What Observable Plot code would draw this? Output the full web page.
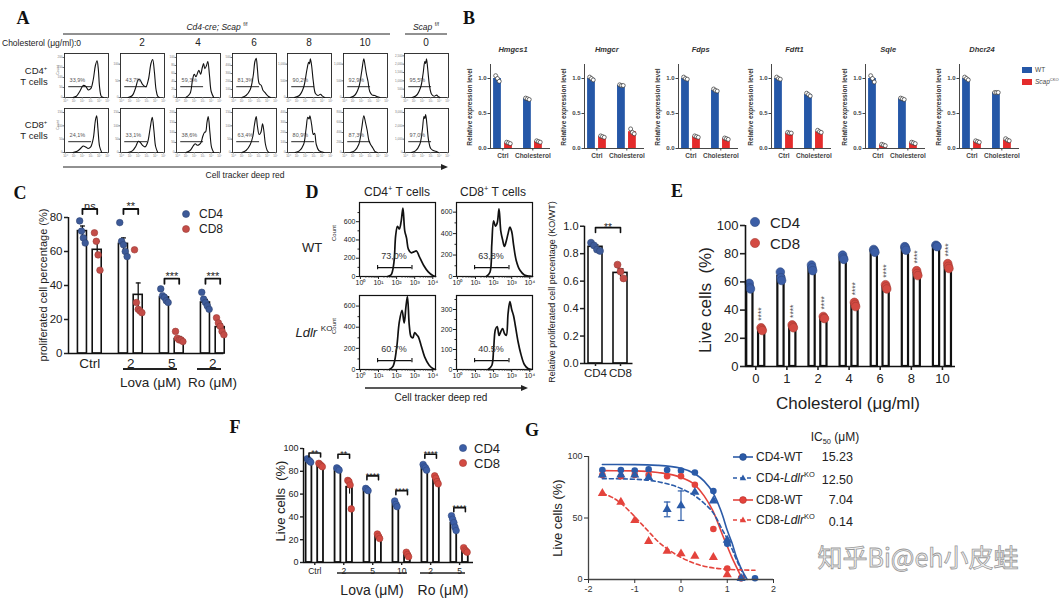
<!DOCTYPE html>
<html>
<head>
<meta charset="utf-8">
<script src="https://cdn.jsdelivr.net/npm/d3@7"></script>
<script src="https://cdn.jsdelivr.net/npm/@observablehq/plot@0.6"></script>
<style>
html,body{margin:0;padding:0;background:#fff;}
#fig{position:relative;width:1060px;height:601px;overflow:hidden;background:#fff;font-family:"Liberation Sans",Arial,sans-serif;}
#fig svg{overflow:visible;}
#fig sup{font-size:62%;vertical-align:super;line-height:0;}
#fig sub{font-size:62%;vertical-align:sub;line-height:0;}
</style>
</head>
<body>
<div id="fig"></div>
<script>
// ================= DATA =================
// Panel A: flow histograms (x = log10 decade, y = % of peak)
const aDoseLabels = ["0","2","4","6","8","10","0"];
const aCD4Pct = ["33,9%","43,7%","59,3%","81,3%","90,2%","92,9%","95,5%"];
const aCD8Pct = ["24,1%","33,1%","38,6%","63,4%","80,9%","87,3%","97,0%"];
const aCD4Max = [200,120,100,500,1200,1200,2400];
const aCD8Max = [150,150,200,150,400,800,3000];
const aGate = [0.4, 3.1];
const aCD4Curves = [
  [[0.9,0],[1.3,3],[1.7,15],[2.1,30],[2.4,28],[2.7,19],[3.0,22],[3.3,45],[3.55,80],[3.75,92],[3.9,70],[4.05,25],[4.25,3],[4.5,0]],
  [[0.8,0],[1.3,5],[1.7,25],[2.0,45],[2.2,44],[2.5,33],[2.9,27],[3.2,45],[3.5,85],[3.7,95],[3.9,65],[4.1,20],[4.3,3],[4.5,0]],
  [[1.0,0],[1.5,10],[1.8,45],[2.0,58],[2.2,52],[2.4,62],[2.55,68],[2.75,58],[2.95,75],[3.1,85],[3.25,72],[3.45,80],[3.6,90],[3.8,55],[4.0,15],[4.3,0]],
  [[1.0,0],[1.5,5],[2.0,20],[2.35,55],[2.55,90],[2.7,98],[2.85,70],[3.05,35],[3.3,30],[3.5,18],[3.75,12],[3.9,8],[4.2,2],[4.4,0]],
  [[0.7,0],[1.3,5],[1.8,25],[2.2,70],[2.4,88],[2.5,84],[2.6,97],[2.75,80],[2.95,40],[3.2,10],[3.5,5],[3.8,8],[4.0,4],[4.3,0]],
  [[0.7,0],[1.2,5],[1.7,25],[2.05,65],[2.3,97],[2.45,80],[2.6,60],[2.8,40],[3.0,15],[3.3,6],[3.6,5],[3.9,2],[4.2,0]],
  [[0.8,0],[1.3,5],[1.8,25],[2.1,60],[2.3,90],[2.4,85],[2.5,97],[2.65,70],[2.85,30],[3.1,8],[3.4,3],[3.7,6],[3.9,2],[4.1,0]]
];
const aCD8Curves = [
  [[0.9,0],[1.4,3],[1.8,10],[2.1,16],[2.4,14],[2.7,10],[3.0,14],[3.3,35],[3.55,80],[3.7,92],[3.85,60],[4.05,15],[4.3,0]],
  [[0.8,0],[1.3,4],[1.7,15],[2.0,28],[2.2,26],[2.5,18],[2.8,14],[3.1,25],[3.4,60],[3.65,88],[3.85,55],[4.05,15],[4.3,0]],
  [[1.0,0],[1.5,5],[1.9,17],[2.1,22],[2.35,18],[2.6,20],[2.8,25],[3.0,40],[3.2,50],[3.35,52],[3.5,75],[3.65,90],[3.85,50],[4.05,12],[4.3,0]],
  [[1.0,0],[1.5,5],[2.0,20],[2.3,40],[2.5,70],[2.7,90],[2.85,65],[3.05,45],[3.25,50],[3.45,72],[3.6,55],[3.8,20],[4.0,5],[4.2,0]],
  [[0.8,0],[1.3,4],[1.8,20],[2.1,60],[2.3,88],[2.45,84],[2.55,92],[2.75,70],[2.95,45],[3.1,48],[3.3,20],[3.6,5],[3.9,2],[4.2,0]],
  [[0.7,0],[1.2,4],[1.7,20],[2.05,60],[2.3,92],[2.5,75],[2.7,55],[2.9,30],[3.1,20],[3.35,12],[3.6,3],[3.9,0]],
  [[0.7,0],[1.2,4],[1.7,20],[2.0,55],[2.2,90],[2.3,85],[2.4,95],[2.55,70],[2.75,30],[3.0,10],[3.3,5],[3.6,3],[3.9,0]]
];

// Panel B: relative expression
const bGenes = ["Hmgcs1","Hmgcr","Fdps","Fdft1","Sqle","Dhcr24"];
const bConds = ["Ctrl","Cholesterol"];
const bWT = [[1.0,0.71],[1.0,0.90],[1.0,0.83],[1.0,0.77],[1.0,0.71],[1.0,0.80]];
const bKO = [[0.08,0.10],[0.17,0.24],[0.17,0.14],[0.22,0.24],[0.05,0.08],[0.10,0.12]];
const bWTPts = [
  [[1.04,1.00,0.96],[0.72,0.71,0.70]],
  [[1.02,1.00,0.98],[0.91,0.90,0.90]],
  [[1.02,1.00,0.99],[0.85,0.83,0.82]],
  [[1.02,1.00,0.99],[0.79,0.77,0.75]],
  [[1.04,1.00,0.95],[0.72,0.71,0.70]],
  [[1.02,1.00,0.98],[0.80,0.80,0.80]]
];
const bKOPts = [
  [[0.09,0.08,0.07],[0.11,0.10,0.09]],
  [[0.18,0.17,0.16],[0.28,0.23,0.21]],
  [[0.18,0.17,0.16],[0.15,0.14,0.13]],
  [[0.23,0.22,0.22],[0.26,0.24,0.23]],
  [[0.06,0.05,0.04],[0.09,0.08,0.07]],
  [[0.11,0.10,0.09],[0.14,0.12,0.11]]
];

// Panel C
const cGroupLabels = ["Ctrl","2","5","2"];
const cCD4Mean = [72, 64.5, 33, 30];
const cCD8Mean = [61, 34.5, 8.5, 15.5];
const cCD4Sem = [3, 3.5, 1.3, 1.8];
const cCD8Sem = [5, 7, 1.5, 2];
const cCD4Pts = [[78,72,68,65],[77,66,64,60,57],[38,34,33,31,30],[36,32,30,28,26]];
const cCD8Pts = [[71,66,58,49],[61,30,26,25,24],[13,9,8,8,7],[21,18,16,13,11]];
const cSig = ["ns","**","***","***"];
const cSigY = [85, 85, 44, 44];

// Panel D
const dPct = [["73,0%","63,8%"],["60.7%","40.5%"]];
const dYMax = [[810,690],[700,370]];
const dYTicks = [[[0,200,400,600],[0,200,400,600]],[[0,200,400,600],[0,100,200,300]]];
const dGate = [0.95, 2.85];
const dCurves = [
  [
    [[1.5,0],[1.7,20],[1.85,150],[1.95,450],[2.05,550],[2.15,520],[2.25,600],[2.35,750],[2.45,500],[2.55,420],[2.65,300],[2.8,260],[2.95,270],[3.1,280],[3.25,220],[3.5,120],[3.75,50],[4.0,10],[4.15,0]],
    [[1.6,0],[1.8,40],[1.9,300],[2.0,520],[2.1,470],[2.2,500],[2.3,630],[2.4,420],[2.5,340],[2.6,280],[2.7,330],[2.8,400],[2.9,460],[3.0,420],[3.1,300],[3.25,150],[3.45,60],[3.7,15],[4.0,3],[4.15,0]]
  ],
  [
    [[1.6,0],[1.8,30],[2.0,200],[2.15,450],[2.3,560],[2.42,440],[2.52,600],[2.6,690],[2.7,420],[2.8,310],[2.9,300],[3.0,350],[3.1,330],[3.2,310],[3.35,230],[3.55,120],[3.8,40],[4.0,10],[4.15,0]],
    [[1.7,0],[1.9,20],[2.0,100],[2.1,200],[2.2,215],[2.3,170],[2.4,190],[2.5,205],[2.6,180],[2.7,170],[2.8,280],[2.9,340],[3.0,300],[3.1,270],[3.2,220],[3.35,140],[3.5,80],[3.7,25],[3.9,5],[4.1,0]]
  ]
];
const dBarLabels = ["CD4","CD8"];
const dBarMean = [0.85, 0.66];
const dBarSem = [0.015, 0.03];
const dBarPts = [[0.88,0.86,0.83,0.82],[0.72,0.67,0.62]];

// Panel E
const eDoses = ["0","1","2","4","6","8","10"];
const eCD4Mean = [57, 64, 70, 77, 82, 84, 85.5];
const eCD8Mean = [26.5, 28.5, 34.5, 44, 56.5, 66, 71];
const eCD4Pts = [[59,56,55],[67,63,61],[72,70,68],[79,77,76],[83,82,81],[85,84,82.5],[86,85.5,85]];
const eCD8Pts = [[27.5,26.5,25.5],[29.5,28.5,27.5],[35.5,34.5,34],[45.5,44,42.5],[58,56.5,55],[68,66,64.5],[73,71,69.5]];

// Panel F
const fGroups = ["Ctrl","2","5","10","2","5"];
const fCD4Mean = [90, 82, 64, 51.5, 83.5, 34.5];
const fCD8Mean = [86, 66, 23, 7, 72.5, 10.5];
const fCD4Sem = [0.7, 0.6, 0.6, 1.5, 1, 2.5];
const fCD8Sem = [0.7, 6, 1.2, 1.2, 1.5, 0.9];
const fCD4Pts = [[91,90,89,88],[83,82,81],[65,64,63],[54,51,49],[86,84,83,81],[41,38,35,31,28]];
const fCD8Pts = [[87,86,85,84],[72,71,68,47],[25,23,21],[9,7,5],[76,74,71,69],[13,11,10,9]];
const fSig = ["**","**","****","****","****","****"];
const fSigY = [96, 95, 76, 63, 95, 48];

// Panel G
const gLogConc = [-1.7,-1.3,-1.0,-0.7,-0.3,0,0.3,0.7,1.0,1.3,1.6];
const gCD4WT = [89,89,88.5,89.5,89,88.5,87,72,29,1,1];
const gCD4KO = [85,85,85,83,57,60,71,64,32,1,null];
const gCD4KOSem = [0,0,0,0,6,12,0,0,0,0,0];
const gCD8WT = [85,84,85,85,84,84,77,41,9,1,null];
const gCD8KO = [70,63,48,31,23,21,19,18,4,null,null];
const gFitCD4WT = [[-1.7,93.5],[-1.0,93.4],[-0.5,92.8],[0,90.5],[0.3,86],[0.5,80],[0.7,70],[0.9,52],[1.0,40],[1.1,30],[1.2,18],[1.3,9],[1.43,0]];
const gFitCD4KO = [[-1.7,82],[-1.0,81.5],[-0.5,79.5],[0,74],[0.3,68],[0.5,62],[0.7,54],[0.9,40],[1.0,33],[1.1,25],[1.2,16],[1.3,8],[1.4,0]];
const gFitCD8WT = [[-1.7,88.5],[-1.0,88.3],[-0.5,87],[0,83],[0.3,77],[0.5,68],[0.7,55],[0.9,36],[1.0,27],[1.1,18],[1.2,10],[1.33,0]];
const gFitCD8KO = [[-1.7,70],[-1.5,67],[-1.3,62],[-1.1,55],[-0.9,47],[-0.7,39],[-0.5,31],[-0.3,25],[0,18],[0.3,13],[0.6,10],[1.0,8.3],[1.3,7.8],[1.6,7.5]];
const gNames = ["CD4-WT","CD4-<i>Ldlr</i><sup>KO</sup>","CD8-WT","CD8-<i>Ldlr</i><sup>KO</sup>"];
const gIC50 = ["15.23","12.50","7.04","0.14"];

// ================= RENDERING =================
const FONT = '"Liberation Sans", Arial, sans-serif';
const SERIF = '"Liberation Serif", "Times New Roman", serif';
const SUP = ["⁰","¹","²","³","⁴","⁵"];
const ST = {fontFamily: FONT, background: "transparent", overflow: "visible", color: "#222"};
const fig = document.getElementById("fig");

const C4 = "#3d5a98", C8 = "#c44d48";
const E4 = "#3c5ea6", E8 = "#d34a42";
const G4 = "#2b5ba8", G8 = "#e4433c";
const BWT = "#2557a7", BKO = "#e42b2b";
const edge = c => d3.color(c).darker(0.7).formatHex();

function put(node, left, top) {
  const w = document.createElement("div");
  w.style.cssText = `position:absolute;left:${left}px;top:${top}px;`;
  w.appendChild(node);
  fig.appendChild(w);
}
function txt(x, y, html, o = {}) {
  const d = document.createElement("div");
  const ax = o.anchor === "start" ? "0%" : o.anchor === "end" ? "-100%" : "-50%";
  d.style.cssText = `position:absolute;left:${x}px;top:${y}px;white-space:nowrap;line-height:1;` +
    `font-size:${o.size || 10}px;font-family:${o.family || FONT};color:${o.color || "#222"};` +
    `font-weight:${o.weight || "normal"};font-style:${o.style || "normal"};` +
    `transform:translate(${ax},-50%)${o.rot ? ` rotate(${o.rot}deg)` : ""};`;
  d.innerHTML = html;
  fig.appendChild(d);
}
const panelLetter = (x, y, s) => txt(x, y, s, {size: 18, weight: "bold", family: SERIF, color: "#111"});

// ---------- Panel A ----------
function histA(curve, max, pct) {
  const pts = curve.map(([x, p]) => ({x, y: p / 100 * max}));
  return Plot.plot({
    width: 55, height: 54, marginLeft: 9, marginRight: 2, marginTop: 2, marginBottom: 8,
    style: ST,
    x: {domain: [-0.1, 5.1]},
    y: {domain: [0, max * 1.1]},
    marks: [
      Plot.frame({stroke: "#222", strokeWidth: 0.9}),
      Plot.axisX({ticks: [0,1,2,3,4,5], label: null, tickSize: 1.5, tickPadding: 0.5, fontSize: 3, tickFormat: d => "10" + SUP[d], color: "#777"}),
      Plot.axisY({ticks: 4, label: null, tickSize: 1.5, tickPadding: 0.5, fontSize: 3, color: "#777"}),
      Plot.line(pts, {x: "x", y: "y", stroke: "#111", strokeWidth: 1.1, curve: "catmull-rom"}),
      Plot.ruleY([max * 0.27], {x1: aGate[0], x2: aGate[1], stroke: "#111", strokeWidth: 0.9}),
      Plot.text([pct], {x: aGate[0] + 0.1, y: max * 0.43, text: d => d, textAnchor: "start", fontSize: 5.5, fill: "#555"})
    ]
  });
}
const aBoxX = [64,120,176,232,287,343,404];
const aRowY = [53,108];
[aCD4Curves, aCD8Curves].forEach((curves, r) => {
  const maxes = r ? aCD8Max : aCD4Max;
  const pcts = r ? aCD8Pct : aCD4Pct;
  curves.forEach((c, i) => put(histA(c, maxes[i], pcts[i]), aBoxX[i] - 9, aRowY[r] - 2));
});
panelLetter(23, 18, "A");
txt(217, 27, "<i>Cd4-cre; Scap</i> <sup>f/f</sup>", {size: 8.5});
txt(426, 27, "<i>Scap</i> <sup>f/f</sup>", {size: 8.5});
txt(2, 43, "Cholesterol (μg/ml):" + aDoseLabels[0], {size: 8.5, anchor: "start"});
aDoseLabels.slice(1).forEach((d, i) => txt(aBoxX[i + 1] + 22, 43, d, {size: 10}));
txt(36, 71, "CD4<sup>+</sup>", {size: 9.5}); txt(34, 82, "T cells", {size: 9.5});
txt(36, 125, "CD8<sup>+</sup>", {size: 9.5}); txt(34, 136, "T cells", {size: 9.5});
txt(59, 70, "Count", {size: 3.5, rot: -90, color: "#666"});
txt(59, 125, "Count", {size: 3.5, rot: -90, color: "#666"});
txt(245, 175, "Cell tracker deep red", {size: 8.5});

// ---------- Panel B ----------
panelLetter(469, 18, "B");
bGenes.forEach((g, i) => {
  const ax = 490 + 93.8 * i;
  const bars = [];
  bConds.forEach((_, c) => {
    bars.push({pos: c, v: bWT[i][c], fill: BWT, pts: bWTPts[i][c]});
    bars.push({pos: c + 0.367, v: bKO[i][c], fill: BKO, pts: bKOPts[i][c]});
  });
  const pts = bars.flatMap(b => b.pts.map((v, j) => ({x: b.pos + (j - 1) * 0.06, y: v})));
  const p = Plot.plot({
    width: 82, height: 104, marginLeft: 20, marginRight: 2, marginTop: 4, marginBottom: 16,
    style: ST,
    x: {domain: [-0.233, 1.77]}, y: {domain: [0, 1.2]}, color: {type: "identity"},
    marks: [
      Plot.rectY(bars, {x1: d => d.pos - 0.13, x2: d => d.pos + 0.13, y1: 0, y2: "v", fill: "fill"}),
      Plot.dot(pts, {x: "x", y: "y", r: 2, fill: "white", stroke: "#333", strokeWidth: 0.7}),
      Plot.ruleX([-0.233], {y1: 0, y2: 1.2, stroke: "#333", strokeWidth: 0.9}),
      Plot.ruleY([0], {x1: -0.233, x2: 1.77, stroke: "#333", strokeWidth: 0.9}),
      Plot.axisY({ticks: [0, 0.5, 1], label: null, tickFormat: d3.format(".1f"), tickSize: 2.5, tickPadding: 1.5, fontSize: 6, fontWeight: "bold", color: "#444"}),
      Plot.axisX({ticks: [0.18, 1.18], label: null, tickFormat: d => bConds[Math.round(d - 0.18)], tickSize: 2.5, tickPadding: 2, fontSize: 6.5, fontWeight: "bold", color: "#444"})
    ]
  });
  put(p, ax - 20, 60);
  txt(ax + 23, 50, g, {size: 7.5, weight: "bold", style: "italic", color: "#333"});
  txt(ax - 20, 107, "Relative expression level", {size: 6.5, weight: "bold", rot: -90, color: "#333"});
});
txt(1035, 70, "WT", {size: 6.5, anchor: "start", color: "#444"});
txt(1035, 82, "<i>Scap</i><sup>CKO</sup>", {size: 6.5, anchor: "start", color: "#444"});

// ---------- generic grouped bar chart ----------
function barChart(o) {
  const bars = o.bars;
  const dots = bars.flatMap(b => b.pts.map((v, j) => ({x: b.pos + (j - (b.pts.length - 1) / 2) * o.jitter, y: v, fill: b.color, stroke: edge(b.color)})));
  const errs = bars.filter(b => b.sem);
  const [x0, x1] = o.xDomain;
  const marks = [
    Plot.rectY(bars, {x1: d => d.pos - o.hw, x2: d => d.pos + o.hw, y1: 0, y2: "mean", fill: "white", stroke: "#111", strokeWidth: o.barStroke}),
    Plot.ruleX(errs, {x: "pos", y1: d => d.mean - d.sem, y2: d => d.mean + d.sem, stroke: "#111", strokeWidth: o.errW}),
    Plot.link(errs, {x1: d => d.pos - o.cap, x2: d => d.pos + o.cap, y1: d => d.mean + d.sem, y2: d => d.mean + d.sem, stroke: "#111", strokeWidth: o.errW}),
    Plot.dot(dots, {x: "x", y: "y", r: o.r, fill: "fill", stroke: "stroke", strokeWidth: 0.6}),
    Plot.ruleX([x0], {y1: 0, y2: o.yAxisTop, stroke: "#111", strokeWidth: o.axisW}),
    Plot.ruleY([0], {x1: x0, x2: x1, stroke: "#111", strokeWidth: o.axisW}),
    Plot.axisY({ticks: o.yTicks, label: null, tickFormat: o.yFormat, tickSize: o.yTickSize, tickPadding: 2, fontSize: o.yFont, color: "#222", strokeWidth: o.axisW}),
    Plot.axisX({ticks: o.xTicks, label: null, tickFormat: o.xFormat, tickSize: o.xTickSize, tickPadding: o.xPad, fontSize: o.xFont, color: "#222", strokeWidth: o.axisW})
  ];
  if (o.brackets) {
    const segs = o.brackets.flatMap((b, i) => [
      {x: b.x1, y: b.y - o.drop, i}, {x: b.x1, y: b.y, i}, {x: b.x2, y: b.y, i}, {x: b.x2, y: b.y - o.drop, i}]);
    marks.push(Plot.line(segs, {x: "x", y: "y", z: "i", stroke: "#111", strokeWidth: o.brW}));
    marks.push(Plot.text(o.brackets, {x: d => (d.x1 + d.x2) / 2, y: "y", text: "label", lineAnchor: "bottom", dy: o.brDy, fontSize: o.brFont, fill: "#222"}));
  }
  if (o.extra) marks.push(...o.extra);
  return Plot.plot({
    width: o.width, height: o.height, marginLeft: o.ml, marginRight: o.mr, marginTop: o.mt, marginBottom: o.mb,
    style: ST, x: {domain: o.xDomain}, y: {domain: o.yDomain}, color: {type: "identity"}, marks
  });
}

// ---------- Panel C ----------
{
  const bars = [];
  cGroupLabels.forEach((_, g) => {
    bars.push({pos: g, mean: cCD4Mean[g], sem: cCD4Sem[g], pts: cCD4Pts[g], color: C4});
    bars.push({pos: g + 0.36, mean: cCD8Mean[g], sem: cCD8Sem[g], pts: cCD8Pts[g], color: C8});
  });
  const p = barChart({
    bars, xDomain: [-0.34, 3.45], yDomain: [0, 90], yAxisTop: 80,
    width: 234, height: 203, ml: 68, mr: 10.6, mt: 20, mb: 30,
    hw: 0.11, barStroke: 1.6, errW: 1.3, cap: 0.06, r: 3.3, jitter: 0.045, axisW: 1.5,
    yTicks: [0,20,40,60,80], yTickSize: 4, yFont: 11.5,
    xTicks: cGroupLabels.map((_, g) => g + 0.18), xFormat: d => cGroupLabels[Math.round(d - 0.18)], xTickSize: 0, xPad: 5, xFont: 13.5,
    brackets: cSig.map((s, g) => ({x1: g, x2: g + 0.36, y: cSigY[g], label: s})), drop: 3, brW: 1.8, brFont: 11, brDy: 1
  });
  put(p, 0, 180);
  panelLetter(20, 193, "C");
  txt(43, 285, "proliferated cell percentage (%)", {size: 11, rot: -90});
  txt(199, 214, "CD4", {size: 12, anchor: "start"});
  txt(199, 229, "CD8", {size: 12, anchor: "start"});
  txt(120, 383, "Lova (μM)", {size: 13.5, anchor: "start"});
  txt(188, 383, "Ro (μM)", {size: 13.5, anchor: "start"});
}

// ---------- Panel D ----------
function histD(curve, ymax, yticks, pct) {
  const pts = curve.map(([x, y]) => ({x, y}));
  const step = yticks[1] - yticks[0];
  const minorY = d3.range(step / 2, ymax, step);
  const minorX = d3.range(0, 4).flatMap(d => d3.range(2, 10).map(k => d + Math.log10(k)));
  return Plot.plot({
    width: 100, height: 90, marginLeft: 20, marginRight: 4, marginTop: 2, marginBottom: 14,
    style: ST, x: {domain: [-0.05, 4.15]}, y: {domain: [0, ymax]},
    marks: [
      Plot.frame({stroke: "#111", strokeWidth: 1.2}),
      Plot.axisX({ticks: [0,1,2,3,4], label: null, tickSize: 3, tickPadding: 1, fontSize: 7, tickFormat: d => "10" + SUP[d], color: "#222"}),
      Plot.axisX({ticks: minorX, label: null, tickSize: 1.5, tickFormat: () => "", color: "#222"}),
      Plot.axisY({ticks: yticks, label: null, tickSize: 3, tickPadding: 1, fontSize: 7, color: "#222"}),
      Plot.axisY({ticks: minorY, label: null, tickSize: 1.5, tickFormat: () => "", color: "#222"}),
      Plot.line(pts, {x: "x", y: "y", stroke: "#111", strokeWidth: 1.7, curve: "catmull-rom"}),
      Plot.ruleY([ymax * 0.12], {x1: dGate[0], x2: dGate[1], stroke: "#111", strokeWidth: 1.1}),
      Plot.ruleX(dGate, {x: d => d, y1: ymax * 0.09, y2: ymax * 0.15, stroke: "#111", strokeWidth: 1.1}),
      Plot.text([pct], {x: dGate[0] + 0.2, y: ymax * 0.27, text: d => d, textAnchor: "start", fontSize: 9, fill: "#333"})
    ]
  });
}
{
  const boxX = [359, 456], boxY = [202, 295];
  dCurves.forEach((row, r) => row.forEach((c, k) => put(histD(c, dYMax[r][k], dYTicks[r][k], dPct[r][k]), boxX[k] - 20, boxY[r] - 2)));
  panelLetter(312, 192, "D");
  txt(397, 192, "CD4<sup>+</sup> T cells", {size: 12});
  txt(493, 192, "CD8<sup>+</sup> T cells", {size: 12});
  txt(312, 247, "WT", {size: 13});
  txt(314, 332, "<i>Ldlr</i> <sup>KO</sup>", {size: 13});
  txt(334, 233, "Count", {size: 6, rot: -90});
  txt(334, 326, "Count", {size: 6, rot: -90});
  txt(441, 398, "Cell tracker deep red", {size: 10});

  const bars = dBarLabels.map((_, i) => ({pos: i, mean: dBarMean[i], sem: dBarSem[i], pts: dBarPts[i], color: i ? C8 : C4}));
  const p = barChart({
    bars, xDomain: [-0.44, 1.5], yDomain: [0, 1.1], yAxisTop: 1.0,
    width: 81.5, height: 177, ml: 30, mr: 3, mt: 6, mb: 20,
    hw: 0.28, barStroke: 1.6, errW: 1.2, cap: 0.12, r: 3.5, jitter: 0.12, axisW: 1.5,
    yTicks: [0,0.2,0.4,0.6,0.8,1.0], yFormat: d3.format(".1f"), yTickSize: 4, yFont: 11,
    xTicks: [0, 1], xFormat: d => dBarLabels[d], xTickSize: 3, xPad: 2, xFont: 11.5,
    brackets: [{x1: 0, x2: 1, y: 0.99, label: "**"}], drop: 0.035, brW: 1.6, brFont: 10, brDy: 3
  });
  put(p, 554, 206);
  txt(552, 292, "Relative proliferated cell percentage (KO/WT)", {size: 9, rot: -90});
}

// ---------- Panel E ----------
{
  const bars = [];
  eDoses.forEach((_, g) => {
    bars.push({pos: g - 0.19, mean: eCD4Mean[g], pts: eCD4Pts[g], color: E4});
    bars.push({pos: g + 0.19, mean: eCD8Mean[g], pts: eCD8Pts[g], color: E8});
  });
  const cd8 = bars.filter(b => b.color === E8);
  const p = barChart({
    bars, xDomain: [-0.33, 6.42], yDomain: [0, 100], yAxisTop: 100,
    width: 248, height: 173, ml: 30, mr: 8, mt: 8, mb: 24,
    hw: 0.1, barStroke: 2.2, errW: 1, cap: 0.05, r: 4.3, jitter: 0.02, axisW: 1.6,
    yTicks: [0,20,40,60,80,100], yTickSize: 5, yFont: 13,
    xTicks: eDoses.map((_, g) => g), xFormat: d => eDoses[d], xTickSize: 4, xPad: 3, xFont: 13,
    extra: [Plot.text(cd8, {x: "pos", y: d => d3.max(d.pts), text: () => "****", rotate: -90, textAnchor: "start", lineAnchor: "middle", dy: -7, fontSize: 8.5, fill: "#555"})]
  });
  put(p, 715, 217);
  panelLetter(677, 191, "E");
  txt(770, 222, "CD4", {size: 15, anchor: "start"});
  txt(770, 243, "CD8", {size: 15, anchor: "start"});
  txt(705, 300, "Live cells&nbsp;&nbsp;(%)", {size: 17, rot: -90});
  txt(848, 403, "Cholesterol (μg/ml)", {size: 17});
}

// ---------- Panel F ----------
{
  const bars = [];
  fGroups.forEach((_, g) => {
    bars.push({pos: g - 0.2, mean: fCD4Mean[g], sem: fCD4Sem[g], pts: fCD4Pts[g], color: E4});
    bars.push({pos: g + 0.2, mean: fCD8Mean[g], sem: fCD8Sem[g], pts: fCD8Pts[g], color: E8});
  });
  const p = barChart({
    bars, xDomain: [-0.39, 5.48], yDomain: [0, 100], yAxisTop: 100,
    width: 198, height: 140, ml: 22, mr: 6, mt: 10, mb: 16,
    hw: 0.1, barStroke: 1.8, errW: 1.1, cap: 0.06, r: 3.3, jitter: 0.04, axisW: 1.4,
    yTicks: [0,20,40,60,80,100], yTickSize: 3, yFont: 9,
    xTicks: fGroups.map((_, g) => g), xFormat: d => fGroups[d], xTickSize: 3, xPad: 2, xFont: 8.5,
    brackets: fSig.map((s, g) => ({x1: g - 0.2, x2: g + 0.2, y: fSigY[g], label: s})), drop: 3.5, brW: 1.6, brFont: 9, brDy: 3
  });
  put(p, 281, 438);
  panelLetter(235, 427, "F");
  txt(474, 448, "CD4", {size: 13, anchor: "start"});
  txt(474, 463, "CD8", {size: 13, anchor: "start"});
  txt(280, 501, "Live cells&nbsp;&nbsp;(%)", {size: 13, rot: -90});
  txt(372, 590, "Lova (μM)", {size: 14});
  txt(443, 590, "Ro (μM)", {size: 14});
}

// ---------- Panel G ----------
{
  const series = [
    {y: gCD4WT, fit: gFitCD4WT, color: G4, tri: false},
    {y: gCD4KO, fit: gFitCD4KO, color: G4, tri: true},
    {y: gCD8WT, fit: gFitCD8WT, color: G8, tri: false},
    {y: gCD8KO, fit: gFitCD8KO, color: G8, tri: true}
  ];
  const dots = series.flatMap(s => s.y.map((v, i) => v == null ? null : {x: gLogConc[i], y: v, color: s.color, tri: s.tri}).filter(Boolean));
  const fits = series.flatMap((s, k) => s.fit.map(([x, y]) => ({x, y, k, color: s.color, tri: s.tri})));
  const errs = gCD4KOSem.map((e, i) => ({x: gLogConc[i], y: gCD4KO[i], e})).filter(d => d.e > 0);
  const p = Plot.plot({
    width: 215, height: 145, marginLeft: 22, marginRight: 8, marginTop: 6, marginBottom: 16,
    style: ST, x: {domain: [-2, 2]}, y: {domain: [0, 100]}, color: {type: "identity"},
    marks: [
      Plot.line(fits.filter(d => !d.tri), {x: "x", y: "y", z: "k", stroke: "color", strokeWidth: 1.6, curve: "monotone-x"}),
      Plot.line(fits.filter(d => d.tri), {x: "x", y: "y", z: "k", stroke: "color", strokeWidth: 1.6, strokeDasharray: "4,3", curve: "monotone-x"}),
      Plot.ruleX(errs, {x: "x", y1: d => d.y - d.e, y2: d => d.y + d.e, stroke: G4, strokeWidth: 1.2}),
      Plot.link(errs, {x1: d => d.x - 0.07, x2: d => d.x + 0.07, y1: d => d.y + d.e, y2: d => d.y + d.e, stroke: G4, strokeWidth: 1.2}),
      Plot.link(errs, {x1: d => d.x - 0.07, x2: d => d.x + 0.07, y1: d => d.y - d.e, y2: d => d.y - d.e, stroke: G4, strokeWidth: 1.2}),
      Plot.dot(dots.filter(d => !d.tri), {x: "x", y: "y", r: 3.3, fill: "color", symbol: "circle"}),
      Plot.dot(dots.filter(d => d.tri), {x: "x", y: "y", r: 3.4, fill: "color", symbol: "triangle"}),
      Plot.ruleX([-2], {y1: 0, y2: 100, stroke: "#444", strokeWidth: 1.3}),
      Plot.ruleY([0], {x1: -2, x2: 2, stroke: "#444", strokeWidth: 1.3}),
      Plot.axisY({ticks: [0, 50, 100], label: null, tickFormat: d => String(d), tickSize: 4, tickPadding: 2, fontSize: 9, color: "#333"}),
      Plot.axisX({ticks: [-2,-1,0,1,2], label: null, tickFormat: d => String(d), tickSize: 4, tickPadding: 2, fontSize: 9, color: "#333"})
    ]
  });
  put(p, 566, 450);
  panelLetter(532, 430, "G");
  txt(557, 518, "Live cells (%)", {size: 13, rot: -90});
  txt(835, 437, "IC<sub>50</sub> (μM)", {size: 12});
  const rows = [457, 478, 500, 520];
  gNames.forEach((n, i) => {
    txt(756, rows[i], n, {size: 12, anchor: "start"});
    txt(853, rows[i] + (i % 2 ? 2 : 0), gIC50[i], {size: 12.5, anchor: "end"});
  });
}

// ---------- overlay annotations ----------
const ov = d3.select(fig).append("svg").attr("width", 1060).attr("height", 601)
  .style("position", "absolute").style("left", "0px").style("top", "0px").style("pointer-events", "none");
function seg(x1, y1, x2, y2, w = 1, c = "#222", dash = null) {
  const l = ov.append("line").attr("x1", x1).attr("y1", y1).attr("x2", x2).attr("y2", y2).attr("stroke", c).attr("stroke-width", w);
  if (dash) l.attr("stroke-dasharray", dash);
}
function arrow(x1, x2, y, w = 1) {
  seg(x1, y, x2 - 5, y, w);
  ov.append("path").attr("d", `M${x2},${y}L${x2 - 7},${y - 3}L${x2 - 7},${y + 3}Z`).attr("fill", "#222");
}
function dotAt(x, y, r, c) { ov.append("circle").attr("cx", x).attr("cy", y).attr("r", r).attr("fill", c).attr("stroke", edge(c)).attr("stroke-width", 0.6); }
function triAt(x, y, r, c) { ov.append("path").attr("d", `M${x},${y - r}L${x + r * 0.9},${y + r * 0.6}L${x - r * 0.9},${y + r * 0.6}Z`).attr("fill", c); }

// A
seg(63, 34, 390, 34, 1);
seg(405, 34, 447, 34, 1);
arrow(63, 448, 167, 1);
// B legend
ov.append("rect").attr("x", 1022).attr("y", 67).attr("width", 10).attr("height", 6).attr("fill", BWT);
ov.append("rect").attr("x", 1022).attr("y", 79).attr("width", 10).attr("height", 6).attr("fill", BKO);
// C
dotAt(186, 214, 3.5, C4); dotAt(186, 229, 3.5, C8);
seg(123, 369, 177, 369, 2); seg(197, 369, 221, 369, 2);
// D
arrow(365, 528, 388, 1.3);
// E
dotAt(755, 222, 4.6, E4); dotAt(755, 243, 4.6, E8);
// F
dotAt(463, 448, 3.6, E4); dotAt(463, 463, 3.6, E8);
seg(337, 573, 407, 573, 1.5); seg(420, 573, 465, 573, 1.5);
// G legend glyphs
[[457, G4, false], [478, G4, true], [500, G8, false], [520, G8, true]].forEach(([y, c, tri]) => {
  seg(733, y, 753, y, 1.6, c, tri ? "4,3" : null);
  if (tri) triAt(743, y, 3.6, c); else dotAt(743, y, 3.4, c);
});
// watermark (light fill with grey outline)
ov.append("text").attr("x", 918).attr("y", 567).attr("text-anchor", "middle")
  .attr("font-family", '"Noto Sans CJK SC", sans-serif').attr("font-size", 25)
  .attr("fill", "#f2f2f2").attr("stroke", "#9a9a9a").attr("stroke-width", 0.8)
  .text("知乎Bi@eh小皮蛙");
</script>
</body>
</html>
